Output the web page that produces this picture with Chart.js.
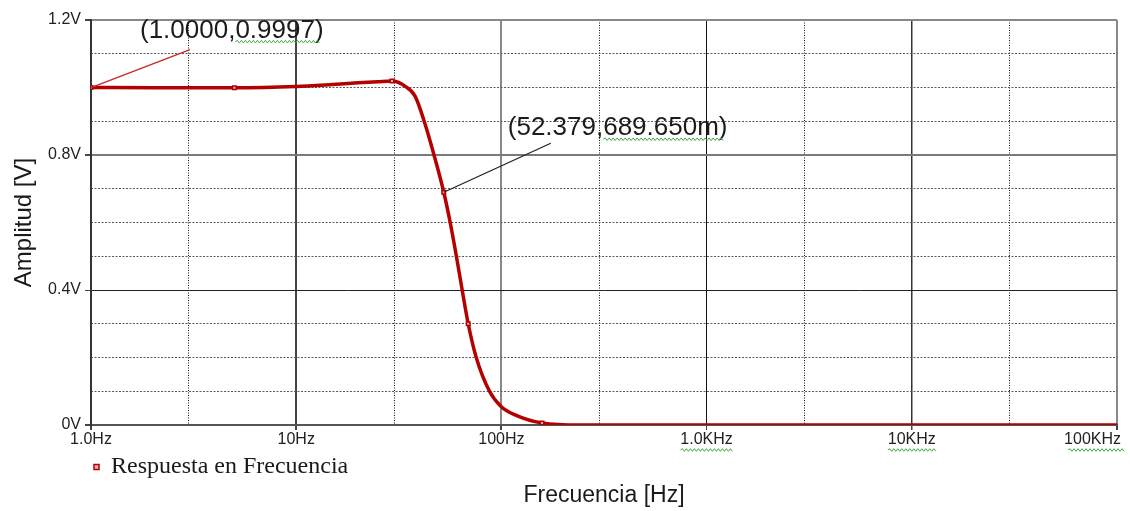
<!DOCTYPE html>
<html>
<head>
<meta charset="utf-8">
<script src="https://cdn.jsdelivr.net/npm/chart.js@4"></script>
<style>
  html, body { margin: 0; padding: 0; background: #fff; }
  #wrap { width: 1130px; height: 511px; }
</style>
</head>
<body>
<div id="wrap"><canvas id="grafico"></canvas></div>
<script>
// respuesta en frecuencia
const frecuencias = [1, 2, 5, 10, 15, 20, 25, 29.3, 33.9, 37.9, 42.05, 46.95, 52.379, 56.3, 60.35, 64.4, 68.9, 75.4, 87.5, 99.6, 116.5, 157.7, 241.5, 1000, 10000, 100000];
const amplitudes = [0.9997, 0.9995, 0.999, 1.003, 1.009, 1.014, 1.017, 1.019, 1.004, 0.975, 0.9, 0.8, 0.68965, 0.6, 0.5, 0.4, 0.3, 0.2, 0.1, 0.055, 0.03, 0.006, 0, 0, 0, 0];

const xTicks = [1, 10, 100, 1000, 10000, 100000];
const xTickLabels = ["1.0Hz", "10Hz", "100Hz", "1.0KHz", "10KHz", "100KHz"];
const xMinorTicks = [3, 30, 300, 3000, 30000];
const yTicks = [0, 0.4, 0.8, 1.2];
const yTickLabels = ["0V", "0.4V", "0.8V", "1.2V"];

// cursores
const cursorFreq = [1, 52.379];
const cursorAmp = [0.9997, 0.68965];
const cursorText = ["(1.0000,0.9997)", "(52.379,689.650m)"];

const rojo = "#b40000";
const sans = "'Liberation Sans', Arial, sans-serif";

function squiggle(ctx, x0, x1, y) {
  ctx.save();
  ctx.strokeStyle = "#3ca83c";
  ctx.lineWidth = 1;
  ctx.beginPath();
  ctx.moveTo(x0, y);
  let up = true;
  for (let x = x0 + 2; x <= x1; x += 2) {
    ctx.lineTo(x, y + (up ? -1.3 : 1.3));
    up = !up;
  }
  ctx.stroke();
  ctx.restore();
}

// lineas y textos de los cursores
const cursores = {
  id: "cursores",
  afterDatasetsDraw(chart) {
    const ctx = chart.ctx;
    const xs = chart.scales.x;
    const ys = chart.scales.y;
    const estilos = [
      { color: "#c82828", tx: 49, ty: -57, lx: 99, ly: -38 },
      { color: "#222", tx: 64, ty: -64, lx: 107, ly: -49 },
    ];
    cursorFreq.forEach((f, i) => {
      const px = xs.getPixelForValue(f);
      const py = ys.getPixelForValue(cursorAmp[i]);
      const e = estilos[i];
      ctx.save();
      ctx.strokeStyle = e.color;
      ctx.lineWidth = 1.3;
      ctx.beginPath();
      ctx.moveTo(px, py);
      ctx.lineTo(px + e.lx, py + e.ly);
      ctx.stroke();

      ctx.font = "26px " + sans;
      ctx.fillStyle = "#1b1b1b";
      ctx.textBaseline = "middle";
      ctx.textAlign = "left";
      const tx = px + e.tx;
      const ty = py + e.ty;
      ctx.fillText(cursorText[i], tx, ty);
      const coma = cursorText[i].indexOf(",") + 1;
      const a = tx + ctx.measureText(cursorText[i].slice(0, coma)).width;
      const b = tx + ctx.measureText(cursorText[i]).width - 3;
      ctx.restore();
      squiggle(ctx, a, b, ty + 11);
    });

    // subrayado del corrector en las etiquetas KHz
    ctx.save();
    ctx.font = "16px " + sans;
    xTicks.forEach((v, i) => {
      if (xTickLabels[i].indexOf("KHz") < 0) return;
      const w = ctx.measureText(xTickLabels[i]).width;
      let cx = xs.getPixelForValue(v);
      if (i === xTicks.length - 1) cx = Math.min(cx, chart.width - 5 - w / 2);
      squiggle(ctx, cx - w / 2, cx + w / 2, xs.top + 25);
    });
    ctx.restore();
  },
};

const ctx = document.getElementById("grafico").getContext("2d");

new Chart(ctx, {
  type: "line",
  data: {
    labels: frecuencias,
    datasets: [
      {
        label: "Respuesta en Frecuencia",
        data: frecuencias.map((f, i) => ({ x: f, y: amplitudes[i] })),
        borderColor: rojo,
        borderWidth: 3.5,
        backgroundColor: "#f2c4c4",
        cubicInterpolationMode: "monotone",
        pointStyle: "rect",
        pointRadius: (c) => ([0, 2, 7, 12, 16, 21].includes(c.dataIndex) ? 2.5 : 0),
        pointBackgroundColor: "#e9b4b4",
        pointBorderColor: rojo,
        pointBorderWidth: 1.5,
      },
    ],
  },
  options: {
    responsive: true,
    maintainAspectRatio: false,
    animation: false,
    layout: { padding: { top: 20, right: 13, left: 0, bottom: 0 } },
    scales: {
      x: {
        type: "logarithmic",
        min: 1,
        max: 100000,
        afterBuildTicks: (s) => { s.ticks = xTicks.map((v) => ({ value: v })); },
        afterFit: (s) => { s.paddingRight = 0; s.height = 27; },
        ticks: {
          autoSkip: false,
          maxRotation: 0,
          padding: 0,
          color: "#222",
          font: { family: sans, size: 16 },
          callback: (v, i) => {
            const t = xTickLabels[i];
            return i === xTickLabels.length - 1 ? t + "           " : t;
          },
        },
        grid: {
          color: (c) => ["#333", "#444", "#888", "#111", "#333", "#888"][c.index],
          lineWidth: (c) => [2, 2, 2, 1, 1.5, 2][c.index],
          tickLength: 5,
          tickColor: "#444",
        },
        border: { color: "#555", width: 2 },
      },
      x2: {
        type: "logarithmic",
        position: "top",
        min: 1,
        max: 100000,
        afterBuildTicks: (s) => { s.ticks = xMinorTicks.map((v) => ({ value: v })); },
        afterFit: (s) => { s.height = 0; },
        ticks: { display: false },
        grid: { color: "#111", lineWidth: 1, drawTicks: false },
        border: { display: false, dash: [1, 1.5] },
      },
      y: {
        min: 0,
        max: 1.2,
        afterBuildTicks: (s) => { s.ticks = yTicks.map((v) => ({ value: v })); },
        afterFit: (s) => { s.width = 91; },
        ticks: {
          padding: 4,
          color: "#222",
          font: { family: sans, size: 16 },
          callback: (v, i) => yTickLabels[i],
        },
        grid: {
          color: (c) => ["#555", "#222", "#7a7a7a", "#888"][c.index],
          lineWidth: (c) => [2, 1, 2, 2][c.index],
          tickLength: 6,
          tickColor: "#444",
        },
        border: { color: "#333", width: 2 },
        title: {
          display: true,
          text: "Amplitud [V]",
          color: "#1a1a1a",
          font: { family: sans, size: 24 },
          padding: { top: 10, bottom: 0 },
        },
      },
      y2: {
        position: "right",
        min: 0,
        max: 1.2,
        ticks: { display: false, stepSize: 0.1 },
        afterFit: (s) => { s.width = 0; },
        grid: {
          drawTicks: false,
          lineWidth: 1,
          color: (c) => {
            const r = c.tick.value / 0.4;
            return Math.abs(r - Math.round(r)) < 1e-6 ? "rgba(0,0,0,0)" : "#5a5a5a";
          },
        },
        border: { display: false, dash: [2, 1.5] },
      },
    },
    plugins: {
      legend: {
        position: "bottom",
        align: "start",
        fullSize: false,
        labels: {
          usePointStyle: true,
          boxWidth: 5,
          boxHeight: 5,
          padding: 3,
          color: "#1a1a1a",
          font: { family: "'Liberation Serif', 'Times New Roman', serif", size: 24, lineHeight: 1 },
        },
      },
      title: {
        display: true,
        position: "bottom",
        fullSize: false,
        text: "Frecuencia [Hz]",
        color: "#1a1a1a",
        font: { family: sans, size: 23, weight: "normal", lineHeight: 1 },
        padding: { top: -5, bottom: 4 },
      },
      tooltip: { enabled: false },
    },
  },
  plugins: [cursores],
});
</script>
</body>
</html>
